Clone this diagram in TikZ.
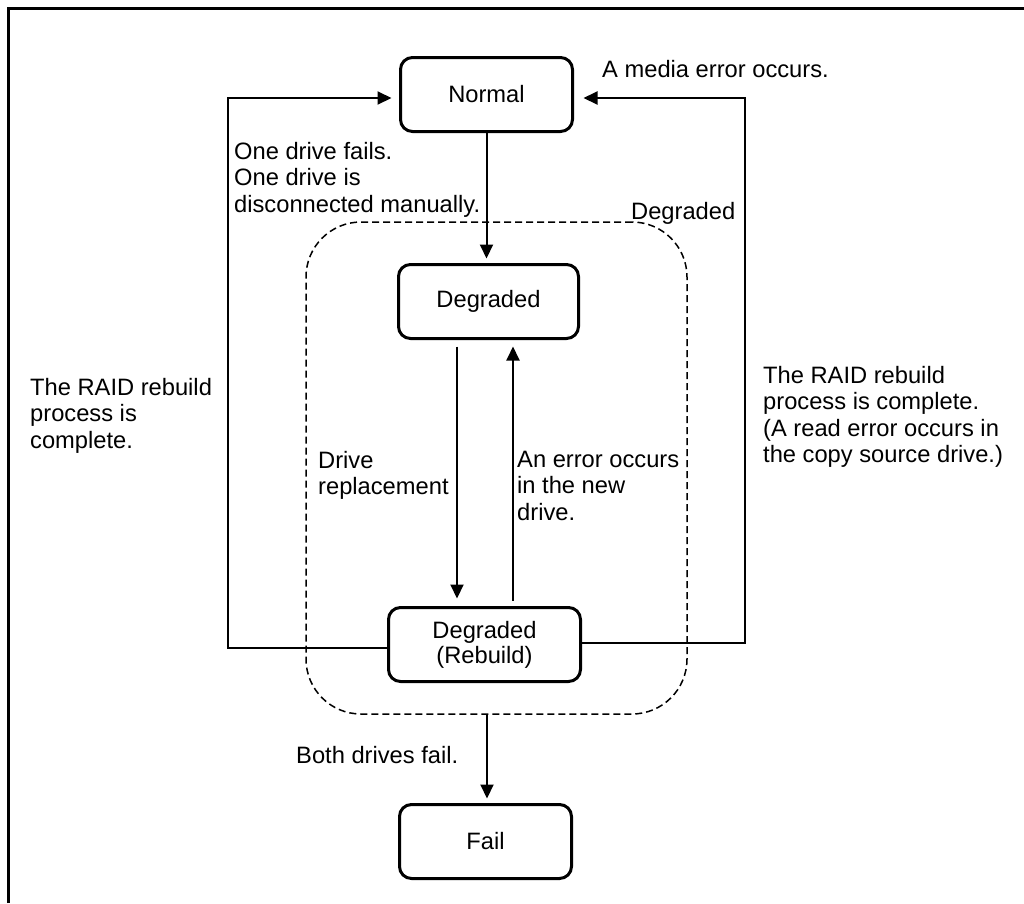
\documentclass[tikz,border=0pt]{standalone}
\usepackage{fontspec}
\setmainfont{Liberation Sans}
\usetikzlibrary{arrows.meta}
\begin{document}
\begin{tikzpicture}[x=1pt,y=-1pt,
  font=\fontsize{23.7}{26.4}\selectfont,
  state/.style={draw, line width=3pt, rounded corners=12pt, inner sep=0pt, align=center, minimum height=74pt},
  arr/.style={line width=2pt, -{Triangle[length=14pt,width=13pt]}},
  lbl/.style={anchor=north west, inner sep=0pt, align=left}]
\useasboundingbox (0,0) rectangle (1024,903);
\draw[line width=3.5pt] (8.5,903) -- (8.5,8.5) -- (1024,8.5);
% dashed group
\node[draw, dash pattern=on 7pt off 4pt, line width=1.5pt, rounded corners=55pt,
      minimum width=381pt, minimum height=492pt, inner sep=0pt] (grp) at (496.5,468) {};
% states
\node[state, minimum width=172pt] (normal) at (486.5,94.5) {Normal};
\node[state, minimum width=180pt] (deg) at (488.5,301.5) {Degraded};
\node[state, minimum width=192pt] (reb) at (484.5,644.5) {Degraded\\[-1.4pt](Rebuild)};
\node[state, minimum width=172pt] (fail) at (485.5,841.5) {Fail};
% helper coordinates
\coordinate (lx) at (228,0);
\coordinate (rx) at (745,0);
\coordinate (dx) at (457,0);
\coordinate (ux) at (513,0);
\coordinate (fx) at (487,0);
\coordinate (rl) at ([yshift=-3.5pt]reb.west);
\coordinate (nl) at ([yshift=-3.5pt]normal.west);
\coordinate (rr) at ([yshift=1.5pt]reb.east);
\coordinate (nr) at ([yshift=-3.5pt]normal.east);
% connectors
\draw[arr, shorten >=4.5pt] (normal.south) -- (normal.south |- deg.north);
\draw[arr, shorten <=6.5pt, shorten >=7.5pt] (dx |- deg.south) -- (dx |- reb.north);
\draw[arr, shorten <=5.5pt, shorten >=6.5pt] (ux |- reb.north) -- (ux |- deg.south);
\draw[arr, shorten >=7.5pt] (rl) -- (lx |- rl) -- (lx |- nl) -- (nl);
\draw[arr, shorten >=9.5pt] (rr) -- (rx |- rr) -- (rx |- nr) -- (nr);
\draw[arr, shorten >=4.5pt] (fx |- grp.south) -- (fx |- fail.north);
% labels
\node[lbl] (t1) at (234,142) {One drive fails.\\One drive is\\disconnected manually.};
\node[lbl] (t2) at (602,60) {A media error occurs.};
\node[lbl] (t3) at (631,202) {Degraded};
\node[lbl] (t4) at (30,378) {The RAID rebuild\\process is\\complete.};
\node[lbl] (t5) at (763,366) {The RAID rebuild\\process is complete.\\(A read error occurs in\\the copy source drive.)};
\node[lbl] (t6) at (318,451) {Drive\\replacement};
\node[lbl] (t7) at (517,451) {An error occurs\\in the new\\drive.};
\node[lbl] (t8) at (296,746) {Both drives fail.};
\end{tikzpicture}
\end{document}
